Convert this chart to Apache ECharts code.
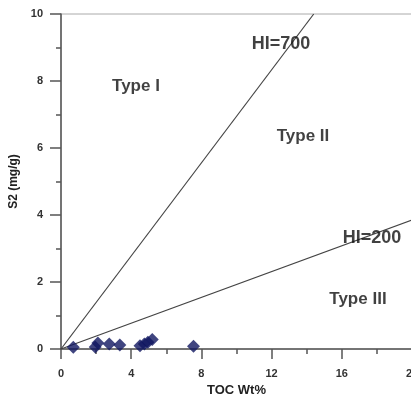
<!DOCTYPE html>
<html><head><meta charset="utf-8">
<script src="https://cdn.jsdelivr.net/npm/echarts@6/dist/echarts.min.js"></script>
<style>html,body{margin:0;padding:0;background:#fff}#c{width:411px;height:394px}</style>
</head><body><div id="c"></div>
<script>
// Sample data: TOC (wt%) and S2 (mg/g)
const toc = [0.7, 1.95, 2.1, 2.75, 3.35, 4.5, 4.75, 4.95, 5.2, 7.55];
const s2  = [0.05, 0.06, 0.18, 0.15, 0.12, 0.1, 0.15, 0.2, 0.28, 0.08];
// HI reference lines (endpoints in data units)
const hi700 = [[0, 0], [14.4, 10]];
const hi200 = [[0, 0], [20, 3.85]];
// Annotations [TOC, S2, text]
const typeLabels = [[4.27, 7.84, 'Type I'], [13.79, 6.35, 'Type II'], [16.92, 1.47, 'Type III']];
const hiLabels = [[12.54, 9.11, 'HI=700'], [17.72, 3.32, 'HI=200']];
const xTicks = [0, 4, 8, 12, 16, 20];
const yTicks = [0, 2, 4, 6, 8, 10];

const chart = echarts.init(document.getElementById('c'));
const axisFont = {fontFamily: 'Liberation Sans', fontWeight: 'bold', fontSize: 11, color: '#333'};
chart.setOption({
  animation: false,
  grid: {left: 61, top: 14, width: 351, height: 335, show: true, borderColor: '#aaa', borderWidth: 1,
    containLabel: false, outerBoundsMode: 'none'},
  xAxis: {
    type: 'value', min: xTicks[0], max: xTicks[xTicks.length - 1], interval: 4,
    name: 'TOC Wt%', nameLocation: 'middle', nameGap: 32,
    nameTextStyle: {fontFamily: 'Liberation Sans', fontWeight: 'bold', fontSize: 13, color: '#222'},
    axisLine: {lineStyle: {color: '#555', width: 1.5}},
    axisTick: {length: 10, lineStyle: {color: '#555', width: 1.5}},
    minorTick: {show: true, splitNumber: 2, length: 5, lineStyle: {color: '#555', width: 1.5}},
    axisLabel: Object.assign({margin: 19, showMaxLabel: true}, axisFont),
    splitLine: {show: false}
  },
  yAxis: {
    type: 'value', min: yTicks[0], max: yTicks[yTicks.length - 1], interval: 2,
    name: 'S2 (mg/g)', nameLocation: 'middle', nameGap: 38, nameRotate: 90,
    nameTextStyle: {fontFamily: 'Liberation Sans', fontWeight: 'bold', fontSize: 12, color: '#222'},
    axisLine: {lineStyle: {color: '#555', width: 1.5}},
    axisTick: {length: 11, lineStyle: {color: '#555', width: 1.5}},
    minorTick: {show: true, splitNumber: 2, length: 5, lineStyle: {color: '#555', width: 1.5}},
    axisLabel: Object.assign({margin: 18}, axisFont),
    splitLine: {show: false}
  },
  series: [
    {type: 'line', data: hi700, symbol: 'none', lineStyle: {color: '#444', width: 1.2}, z: 2},
    {type: 'line', data: hi200, symbol: 'none', lineStyle: {color: '#444', width: 1.2}, z: 2},
    {type: 'scatter', data: typeLabels.map(d => [d[0], d[1], d[2]]), symbolSize: 0, z: 3,
      label: {show: true, position: 'inside', formatter: p => p.data[2],
        fontFamily: 'Liberation Sans', fontWeight: 'bold', fontSize: 17, color: '#111'}},
    {type: 'scatter', data: hiLabels.map(d => [d[0], d[1], d[2]]), symbolSize: 0, z: 3,
      label: {show: true, position: 'inside', formatter: p => p.data[2],
        fontFamily: 'Liberation Sans', fontWeight: 'bold', fontSize: 18, color: '#111'}},
    {type: 'scatter', data: toc.map((t, i) => [t, s2[i]]), symbol: 'diamond', symbolSize: 13,
      itemStyle: {color: '#101660'}, z: 4}
  ]
});
</script></body></html>
